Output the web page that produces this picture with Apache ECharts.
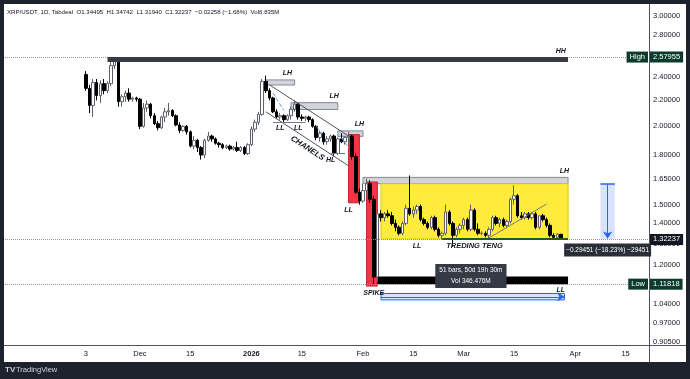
<!DOCTYPE html>
<html>
<head>
<meta charset="utf-8">
<script src="https://cdn.jsdelivr.net/npm/echarts@6/dist/echarts.min.js"></script>
<style>
html,body{margin:0;padding:0;background:#1e222d;}
#wrap{position:relative;width:690px;height:379px;background:#1e222d;}
#panel{position:absolute;left:4px;top:4px;width:682px;height:358px;background:#fff;}
#main{position:absolute;left:0;top:0;width:690px;height:379px;}
</style>
</head>
<body>
<div id="wrap"><div id="panel"></div><div id="main"></div></div>
<script>
// daily axis 2025-10-25 .. 2026-04-21, bars start on 2025-11-16
var startDay = '2025-10-25';
var dayCount = 179;
var firstBar = 22;

var opens = [
  2.42,2.30,2.16,2.35,2.24,2.34,2.28,2.34,2.50,2.55,
  2.19,2.23,2.26,2.21,2.22,2.21,2.00,2.14,2.17,2.08,
  2.02,1.99,2.07,2.11,2.12,2.08,2.01,1.97,2.00,1.96,
  1.86,1.90,1.85,1.80,1.90,1.93,1.91,1.88,1.87,1.85,
  1.86,1.84,1.85,1.83,1.85,1.81,1.87,1.98,2.03,2.09,
  2.36,2.28,2.22,2.11,2.07,2.08,2.05,2.08,2.13,2.17,
  2.07,2.06,2.07,2.05,2.00,1.92,1.95,1.89,1.91,1.93,
  1.81,1.91,1.89,1.92,1.93,1.79,1.57,1.52,1.58,1.62,
  1.53,1.15,1.45,1.43,1.45,1.44,1.40,1.38,1.35,1.40,
  1.48,1.45,1.47,1.49,1.42,1.40,1.38,1.43,1.37,1.34,
  1.35,1.46,1.40,1.34,1.37,1.39,1.42,1.37,1.47,1.37,
  1.35,1.35,1.34,1.37,1.43,1.40,1.42,1.39,1.41,1.53,
  1.55,1.44,1.43,1.45,1.43,1.45,1.38,1.44,1.42,1.39,
  1.34,1.33,1.34495
];
var highs = [
  2.45,2.33,2.38,2.38,2.37,2.38,2.36,2.55,2.57955,2.56,
  2.25,2.28,2.30,2.23,2.23,2.22,2.18,2.20,2.18,2.10,
  2.04,2.08,2.14,2.18,2.13,2.09,2.03,2.01,2.01,1.97,
  1.93,1.91,1.86,1.91,1.96,1.94,1.92,1.89,1.88,1.87,
  1.87,1.86,1.89,1.86,1.86,1.88,2.00,2.05,2.11,2.38,
  2.41,2.30,2.23,2.13,2.10,2.09,2.09,2.15,2.20,2.18,
  2.09,2.08,2.08,2.06,2.01,1.97,1.96,1.93,1.94,1.94,
  1.92,1.95,1.93,1.96,1.94,1.81,1.59,1.62,1.65,1.64,
  1.55,1.47,1.47,1.46,1.47,1.46,1.42,1.39,1.41,1.50,
  1.67,1.49,1.50,1.50,1.43,1.41,1.44,1.44,1.38,1.36,
  1.50,1.47,1.41,1.38,1.40,1.43,1.43,1.50,1.48,1.40,
  1.36,1.36,1.38,1.44,1.44,1.43,1.43,1.42,1.54,1.61,
  1.56,1.46,1.46,1.46,1.46,1.46,1.44,1.45,1.43,1.40,
  1.35,1.35,1.34742
];
var lows = [
  2.28,2.10,2.07,2.20,2.18,2.25,2.26,2.32,2.47,2.15,
  2.15,2.19,2.19,2.19,2.19,1.98,1.99,2.11,2.06,2.01,
  1.97,1.98,2.03,2.08,2.07,2.00,1.95,1.96,1.94,1.85,
  1.84,1.82,1.77,1.78,1.89,1.89,1.87,1.85,1.84,1.84,
  1.83,1.83,1.82,1.82,1.80,1.80,1.86,1.96,2.01,2.08,
  2.26,2.20,2.10,2.06,2.05,2.03,2.04,2.05,2.11,2.05,
  2.04,2.04,2.03,1.99,1.90,1.89,1.87,1.87,1.89,1.79,
  1.80,1.88,1.87,1.88,1.77,1.56,1.50,1.51,1.56,1.51,
  1.11818,1.13,1.41,1.41,1.43,1.39,1.36,1.34,1.34,1.39,
  1.44,1.43,1.45,1.41,1.39,1.37,1.37,1.36,1.33,1.32,
  1.34,1.39,1.285,1.33,1.35,1.37,1.36,1.36,1.36,1.34,
  1.34,1.33,1.32,1.36,1.39,1.38,1.38,1.38,1.40,1.50,
  1.43,1.42,1.42,1.42,1.42,1.37,1.37,1.41,1.38,1.33,
  1.32,1.32,1.3194
];
var closes = [
  2.30,2.16,2.35,2.24,2.34,2.28,2.34,2.50,2.55,2.19,
  2.23,2.26,2.21,2.22,2.21,2.00,2.14,2.17,2.08,2.02,
  1.99,2.07,2.11,2.12,2.08,2.01,1.97,2.00,1.96,1.86,
  1.90,1.85,1.80,1.90,1.93,1.91,1.88,1.87,1.85,1.86,
  1.84,1.85,1.83,1.85,1.81,1.87,1.98,2.03,2.09,2.36,
  2.28,2.22,2.11,2.07,2.08,2.05,2.08,2.13,2.17,2.07,
  2.06,2.07,2.05,2.00,1.92,1.95,1.89,1.91,1.93,1.81,
  1.91,1.89,1.92,1.93,1.79,1.57,1.52,1.58,1.62,1.53,
  1.15,1.45,1.43,1.45,1.44,1.40,1.38,1.35,1.40,1.48,
  1.45,1.47,1.49,1.42,1.40,1.38,1.43,1.37,1.34,1.35,
  1.46,1.40,1.34,1.37,1.39,1.42,1.37,1.47,1.37,1.35,
  1.35,1.34,1.37,1.43,1.40,1.42,1.39,1.41,1.53,1.55,
  1.44,1.43,1.45,1.43,1.45,1.38,1.44,1.42,1.39,1.34,
  1.33,1.345,1.32237
];

// time scale labels (bar index -> text)
var tickIdx  = [22, 37, 51, 68, 82, 99, 113, 127, 141, 158, 172];
var tickText = ['3', 'Dec', '15', '2026', '15', 'Feb', '15', 'Mar', '15', 'Apr', '15'];

// price scale labels
var priceTicks = [3.0, 2.8, 2.4, 2.2, 2.0, 1.8, 1.65, 1.5, 1.4, 1.3, 1.2, 1.04, 0.97, 0.905];

// price tags on the right scale
var tagValues = [2.57955, 1.32237, 1.11818];
var tagNames  = ['High', '', 'Low'];
var tagColors = ['#0c3b2d', '#131722', '#0c3b2d'];

var days = [];
var d0 = new Date(startDay + 'T00:00:00Z');
for (var i = 0; i < dayCount; i++) {
  days.push(new Date(d0.getTime() + i * 864e5).toISOString().slice(0, 10));
}
var candles = [];
for (var i = 0; i < dayCount; i++) candles.push('-');
for (var k = 0; k < opens.length; k++) {
  candles[firstBar + k] = [opens[k], closes[k], lows[k], highs[k]];
}

var FONT = 'Liberation Sans, Arial, sans-serif';
var HIDE = 'rgba(0,0,0,0)';

// --- drawings ---
function box(x1, p1, x2, p2, fill, border) {
  return [{coord: [x1, p1], itemStyle: {color: fill, borderColor: border || fill, borderWidth: border ? 1 : 0}}, {coord: [x2, p2]}];
}
function seg(x1, p1, x2, p2, style, sym) {
  return [{coord: [x1, p1], lineStyle: style, symbol: 'none'}, {coord: [x2, p2], symbol: sym || 'none', symbolSize: 7}];
}
function ls(color, width, type) {
  return {color: color, width: width, type: type || 'solid', opacity: 1};
}

var areas = [
  box(72, 2.372, 80, 2.328, '#d1d4dc', '#868993'),        // LH
  box(79, 2.182, 92, 2.128, '#d1d4dc', '#868993'),
  box(92, 1.967, 99, 1.928, '#d1d4dc', '#868993'),
  box(99, 1.658, 156, 1.62, '#d1d4dc', '#868993'),
  box(95, 1.94, 98, 1.51, '#f23645', '#c2252f'),          // red drops
  box(100, 1.63, 103, 1.112, '#f23645', '#c2252f'),
  box(104, 1.62, 156, 1.3224, '#ffeb3b', '#e0c800'),       // range
  box(103, 1.152, 156, 1.12, '#000000'),                   // low bar
  box(104, 1.082, 155, 1.057, 'rgba(41,98,255,0.18)', '#2962ff'),  // date range
  box(165, 1.617, 169, 1.3224, 'rgba(41,98,255,0.18)')      // price range
];

var lines = [];
for (var t = 0; t < tagValues.length; t++) {
  lines.push({
    yAxis: tagValues[t], symbol: 'none',
    lineStyle: ls('#9598a1', 1, 'dotted'),
    label: {show: true, position: 'end', distance: 1, formatter: tagValues[t].toFixed(5),
            backgroundColor: tagColors[t], color: '#fff', fontSize: 7.5, padding: [2, 3, 1, 3], fontFamily: FONT}
  });
  if (tagNames[t]) {
    lines.push({
      yAxis: tagValues[t], symbol: 'none', lineStyle: ls(HIDE, 1),
      label: {show: true, position: 'insideEnd', distance: 1, formatter: tagNames[t],
              backgroundColor: tagColors[t], color: '#fff', fontSize: 7.5, padding: [2, 3, 1, 3], fontFamily: FONT}
    });
  }
}
lines = lines.concat([
  seg(28, 2.557, 156, 2.557, ls('#363a45', 5)),              // HH bar
  seg(73, 2.33, 95, 1.93, ls('#50535e', 1)),
  seg(72, 2.11, 95, 1.73, ls('#50535e', 1)),
  seg(74, 2.032, 83, 2.032, ls('#787b86', 1)),
  seg(90, 1.815, 94, 1.815, ls('#787b86', 1)),
  seg(74, 2.26, 77, 2.12, ls('#5b9cf6', 1, 'dashed')),
  seg(86, 2.00, 88, 1.93, ls('#5b9cf6', 1, 'dashed')),
  seg(93, 1.92, 95, 1.85, ls('#5b9cf6', 1, 'dashed')),
  seg(121, 1.322, 156, 1.322, ls('#1b5e20', 2)),
  seg(134, 1.327, 150, 1.503, ls('#787b86', 1)),
  seg(104, 1.069, 155, 1.069, ls('#2962ff', 1), 'arrow'),
  seg(165, 1.617, 169, 1.617, ls('#2962ff', 1.5)),
  seg(167, 1.617, 167, 1.325, ls('#2962ff', 1), 'arrow'),
  [{coord: [77, 1.919], lineStyle: ls(HIDE, 1), symbol: 'none',
    label: {show: true, position: 'middle', distance: 0, formatter: 'CHANELS', fontSize: 8,
            fontStyle: 'italic', fontWeight: 'bold', color: '#131722', fontFamily: FONT}},
   {coord: [89, 1.730], symbol: 'none'}]
]);

var txt = {show: true, position: 'inside', formatter: '{b}', fontSize: 7, fontStyle: 'italic',
           fontWeight: 'bold', color: '#131722', fontFamily: FONT};
var points = [
  {name: 'HH', coord: [154, 2.638]},
  {name: 'LH', coord: [78, 2.433]},
  {name: 'LH', coord: [91, 2.236]},
  {name: 'LH', coord: [98, 2.017]},
  {name: 'LL', coord: [76, 1.988]},
  {name: 'LL', coord: [81, 1.988]},
  {name: 'HL', coord: [90, 1.767]},
  {name: 'LL', coord: [95, 1.470]},
  {name: 'SPIKE', coord: [102, 1.084]},
  {name: 'LH', coord: [155, 1.697]},
  {name: 'LL', coord: [114, 1.288]},
  {name: 'TREDING TENG', coord: [130, 1.288], label: {fontSize: 7.5}},
  {name: 'LL', coord: [154, 1.096]},
  {name: '51 bars, 50d 19h 30m\nVol 346.476M', coord: [129, 1.154],
   label: {backgroundColor: '#363a45', color: '#fff', fontStyle: 'normal', fontWeight: 'normal',
           fontSize: 6.5, lineHeight: 11, padding: [1, 4]}},
  {name: '\u22120.29451 (\u221218.23%) \u221229451', coord: [167, 1.2697],
   label: {backgroundColor: '#2a2e39', color: '#fff', fontStyle: 'normal', fontWeight: 'normal',
           fontSize: 6.5, padding: [3, 2]}}
];

var chart = echarts.init(document.getElementById('main'));
var option = {
  animation: false,
  backgroundColor: 'transparent',
  textStyle: {fontFamily: FONT},
  title: {
    text: 'XRP/USDT, 1D, Tabdeal  O1.34495  H1.34742  L1.31940  C1.32237  \u22120.02258 (\u22121.68%)  Vol6.835M',
    left: 7, top: 9, padding: 0,
    textStyle: {fontSize: 6.1, fontWeight: 'normal', color: '#131722', fontFamily: FONT}
  },
  grid: {left: 5, right: 41, top: 5, bottom: 34},
  xAxis: {
    type: 'category',
    data: days,
    boundaryGap: true,
    axisLine: {show: false},
    axisTick: {show: false},
    splitLine: {show: false},
    axisLabel: {
      margin: 5, fontSize: 7.5, color: '#131722', fontFamily: FONT,
      interval: function (index) { return tickIdx.indexOf(index) >= 0; },
      formatter: function (value, index) {
        var k = tickIdx.indexOf(index);
        if (k < 0) return '';
        return tickText[k] === '2026' ? '{b|2026}' : tickText[k];
      },
      rich: {b: {fontWeight: 'bold', fontSize: 7.5, color: '#131722', fontFamily: FONT}}
    }
  },
  yAxis: {
    type: 'log',
    logBase: 10,
    position: 'right',
    min: 0.8955,
    max: 3.124,
    axisLine: {show: false},
    axisTick: {show: false},
    splitLine: {show: false},
    axisLabel: {
      customValues: priceTicks,
      margin: 4, fontSize: 7.5, color: '#131722', fontFamily: FONT,
      formatter: function (v) { return Number(v).toFixed(5); }
    }
  },
  graphic: [
    {type: 'line', shape: {x1: 649.5, y1: 4, x2: 649.5, y2: 362}, style: {stroke: '#50535e', lineWidth: 1}},
    {type: 'line', shape: {x1: 4, y1: 345.5, x2: 686, y2: 345.5}, style: {stroke: '#50535e', lineWidth: 1}},
    {type: 'text', left: 5, top: 366, style: {text: 'TV', fill: '#d1d4dc', font: 'bold 8px ' + FONT}},
    {type: 'text', left: 16, top: 366, style: {text: 'TradingView', fill: '#d1d4dc', font: '7.5px ' + FONT}}
  ],
  series: [
    {
      type: 'line',
      data: [],
      silent: true,
      markArea: {silent: true, label: {show: false}, data: areas},
      markLine: {silent: true, symbol: 'none', label: {show: false}, data: lines},
      markPoint: {silent: true, symbol: 'rect', symbolSize: 1, itemStyle: {color: HIDE},
                  label: txt, data: points}
    },
    {
      type: 'candlestick',
      data: candles,
      silent: true,
      barWidth: 3,
      itemStyle: {color: '#ffffff', color0: '#000000', borderColor: '#5d606b', borderColor0: '#000000', borderWidth: 1}
    }
  ]
};
chart.setOption(option);
</script>
</body>
</html>
